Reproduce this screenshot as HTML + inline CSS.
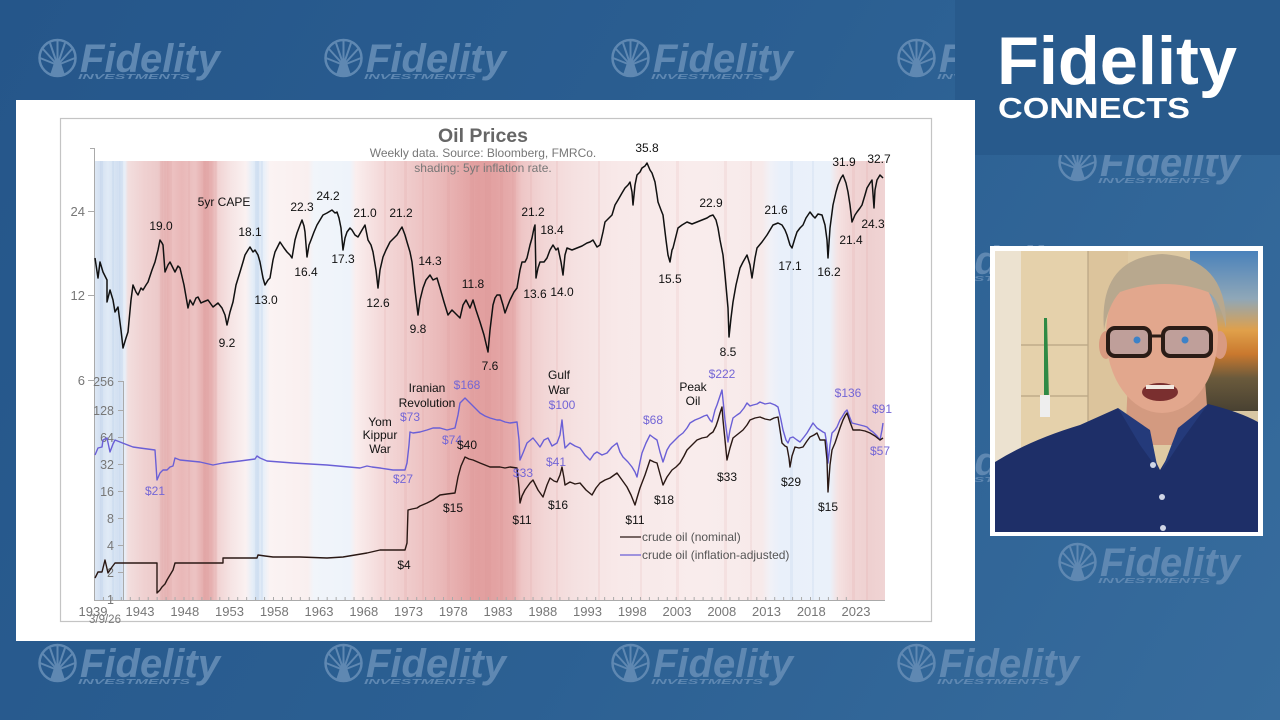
<!DOCTYPE html>
<html><head><meta charset="utf-8"><style>
html,body{margin:0;padding:0;width:1280px;height:720px;overflow:hidden;background:#2b5e8f}
svg{display:block}
text{font-family:"Liberation Sans",Arial,sans-serif}
</style></head><body>
<svg width="1280" height="720" viewBox="0 0 1280 720" xmlns="http://www.w3.org/2000/svg">
<defs>
<linearGradient id="bg" x1="0" y1="0" x2="1280" y2="720" gradientUnits="userSpaceOnUse">
<stop offset="0" stop-color="#25568a"/><stop offset="0.5" stop-color="#2b5f92"/><stop offset="1" stop-color="#376c9d"/></linearGradient>
<linearGradient id="sh" x1="94" y1="0" x2="885" y2="0" gradientUnits="userSpaceOnUse">
<stop offset="0" stop-color="#dfe9f5"/><stop offset=".0076" stop-color="#d3e0f1"/><stop offset=".0177" stop-color="#e0eaf6"/><stop offset=".0303" stop-color="#d2e0f1"/><stop offset=".0392" stop-color="#e8eff8"/><stop offset=".043" stop-color="#f2dede"/><stop offset=".0645" stop-color="#efd0d0"/><stop offset=".0809" stop-color="#eccaca"/><stop offset=".0898" stop-color="#e6b3b3"/><stop offset=".0986" stop-color="#ecc1c1"/><stop offset=".111" stop-color="#e9b8b8"/><stop offset=".128" stop-color="#ecc3c3"/><stop offset=".140" stop-color="#e4aaaa"/><stop offset=".149" stop-color="#e6b0b0"/><stop offset=".157" stop-color="#f1d3d3"/><stop offset=".174" stop-color="#f6e5e5"/><stop offset=".192" stop-color="#faf1f1"/><stop offset=".200" stop-color="#e6eef8"/><stop offset=".207" stop-color="#d8e5f4"/><stop offset=".215" stop-color="#e9f0f9"/><stop offset=".2225" stop-color="#fbf3f3"/><stop offset=".2705" stop-color="#f9efef"/><stop offset=".278" stop-color="#f1f5fa"/><stop offset=".3236" stop-color="#eef3fa"/><stop offset=".331" stop-color="#faeeee"/><stop offset=".3616" stop-color="#f4dada"/><stop offset=".3995" stop-color="#efcaca"/><stop offset=".4374" stop-color="#eab9b9"/><stop offset=".4627" stop-color="#e6abab"/><stop offset=".4855" stop-color="#e29f9f"/><stop offset=".507" stop-color="#e3a2a2"/><stop offset=".5284" stop-color="#e6acac"/><stop offset=".541" stop-color="#eec6c6"/><stop offset=".570" stop-color="#f2d6d6"/><stop offset=".608" stop-color="#f5e1e1"/><stop offset=".665" stop-color="#f8e9e9"/><stop offset=".766" stop-color="#f9ecec"/><stop offset=".8445" stop-color="#f7eaea"/><stop offset=".8546" stop-color="#f1f1f7"/><stop offset=".867" stop-color="#e9f0fa"/><stop offset=".930" stop-color="#eaf1fa"/><stop offset=".9406" stop-color="#f5e2e2"/><stop offset=".9557" stop-color="#f1d6d6"/><stop offset=".981" stop-color="#eed0d0"/><stop offset="1" stop-color="#f0d4d4"/>
</linearGradient>
<linearGradient id="paint" x1="0" y1="251" x2="0" y2="410" gradientUnits="userSpaceOnUse">
<stop offset="0" stop-color="#4a82bb"/><stop offset=".3" stop-color="#8fa7b8"/><stop offset=".5" stop-color="#e0a04a"/><stop offset=".65" stop-color="#c9782e"/><stop offset=".8" stop-color="#6a5a3c"/><stop offset="1" stop-color="#4a4232"/></linearGradient>
<clipPath id="cam"><rect x="995" y="251" width="263" height="281"/></clipPath>
</defs>

<rect x="0" y="0" width="1280" height="720" fill="url(#bg)"/>

<!-- watermark logos -->
<g fill="#5f88b2" stroke="none">
<g transform="translate(38,39)"><circle cx="19.5" cy="19" r="18" fill="none" stroke="#5f88b2" stroke-width="2.5"/><path d="M19.5 26 L5 10 M19.5 26 L12 4 M19.5 26 L19.5 2 M19.5 26 L27 4 M19.5 26 L34 10 M19.5 26 L2 19 M19.5 26 L37 19" stroke="#5f88b2" stroke-width="2"/><path d="M12 36 L16 24 L23 24 L27 36 Z"/><text x="42" y="33" font-size="40" font-weight="bold" font-style="italic" textLength="140" lengthAdjust="spacingAndGlyphs">Fidelity</text><text x="40" y="40" font-size="7" font-weight="bold" font-style="italic" textLength="112" lengthAdjust="spacingAndGlyphs">INVESTMENTS</text></g>
<g transform="translate(324,39)"><circle cx="19.5" cy="19" r="18" fill="none" stroke="#5f88b2" stroke-width="2.5"/><path d="M19.5 26 L5 10 M19.5 26 L12 4 M19.5 26 L19.5 2 M19.5 26 L27 4 M19.5 26 L34 10 M19.5 26 L2 19 M19.5 26 L37 19" stroke="#5f88b2" stroke-width="2"/><path d="M12 36 L16 24 L23 24 L27 36 Z"/><text x="42" y="33" font-size="40" font-weight="bold" font-style="italic" textLength="140" lengthAdjust="spacingAndGlyphs">Fidelity</text><text x="40" y="40" font-size="7" font-weight="bold" font-style="italic" textLength="112" lengthAdjust="spacingAndGlyphs">INVESTMENTS</text></g>
<g transform="translate(611,39)"><circle cx="19.5" cy="19" r="18" fill="none" stroke="#5f88b2" stroke-width="2.5"/><path d="M19.5 26 L5 10 M19.5 26 L12 4 M19.5 26 L19.5 2 M19.5 26 L27 4 M19.5 26 L34 10 M19.5 26 L2 19 M19.5 26 L37 19" stroke="#5f88b2" stroke-width="2"/><path d="M12 36 L16 24 L23 24 L27 36 Z"/><text x="42" y="33" font-size="40" font-weight="bold" font-style="italic" textLength="140" lengthAdjust="spacingAndGlyphs">Fidelity</text><text x="40" y="40" font-size="7" font-weight="bold" font-style="italic" textLength="112" lengthAdjust="spacingAndGlyphs">INVESTMENTS</text></g>
<g transform="translate(897,39)"><circle cx="19.5" cy="19" r="18" fill="none" stroke="#5f88b2" stroke-width="2.5"/><path d="M19.5 26 L5 10 M19.5 26 L12 4 M19.5 26 L19.5 2 M19.5 26 L27 4 M19.5 26 L34 10 M19.5 26 L2 19 M19.5 26 L37 19" stroke="#5f88b2" stroke-width="2"/><path d="M12 36 L16 24 L23 24 L27 36 Z"/><text x="42" y="33" font-size="40" font-weight="bold" font-style="italic" textLength="140" lengthAdjust="spacingAndGlyphs">Fidelity</text><text x="40" y="40" font-size="7" font-weight="bold" font-style="italic" textLength="112" lengthAdjust="spacingAndGlyphs">INVESTMENTS</text></g>
<g transform="translate(1058,143)"><circle cx="19.5" cy="19" r="18" fill="none" stroke="#5f88b2" stroke-width="2.5"/><path d="M19.5 26 L5 10 M19.5 26 L12 4 M19.5 26 L19.5 2 M19.5 26 L27 4 M19.5 26 L34 10 M19.5 26 L2 19 M19.5 26 L37 19" stroke="#5f88b2" stroke-width="2"/><path d="M12 36 L16 24 L23 24 L27 36 Z"/><text x="42" y="33" font-size="40" font-weight="bold" font-style="italic" textLength="140" lengthAdjust="spacingAndGlyphs">Fidelity</text><text x="40" y="40" font-size="7" font-weight="bold" font-style="italic" textLength="112" lengthAdjust="spacingAndGlyphs">INVESTMENTS</text></g>
<g transform="translate(897,241)"><text x="42" y="33" font-size="40" font-weight="bold" font-style="italic" textLength="140" lengthAdjust="spacingAndGlyphs">Fidelity</text><text x="40" y="40" font-size="7" font-weight="bold" font-style="italic" textLength="112" lengthAdjust="spacingAndGlyphs">INVESTMENTS</text></g>
<g transform="translate(897,442)"><text x="42" y="33" font-size="40" font-weight="bold" font-style="italic" textLength="140" lengthAdjust="spacingAndGlyphs">Fidelity</text><text x="40" y="40" font-size="7" font-weight="bold" font-style="italic" textLength="112" lengthAdjust="spacingAndGlyphs">INVESTMENTS</text></g>
<g transform="translate(1058,543)"><circle cx="19.5" cy="19" r="18" fill="none" stroke="#5f88b2" stroke-width="2.5"/><path d="M19.5 26 L5 10 M19.5 26 L12 4 M19.5 26 L19.5 2 M19.5 26 L27 4 M19.5 26 L34 10 M19.5 26 L2 19 M19.5 26 L37 19" stroke="#5f88b2" stroke-width="2"/><path d="M12 36 L16 24 L23 24 L27 36 Z"/><text x="42" y="33" font-size="40" font-weight="bold" font-style="italic" textLength="140" lengthAdjust="spacingAndGlyphs">Fidelity</text><text x="40" y="40" font-size="7" font-weight="bold" font-style="italic" textLength="112" lengthAdjust="spacingAndGlyphs">INVESTMENTS</text></g>
<g transform="translate(38,644)"><circle cx="19.5" cy="19" r="18" fill="none" stroke="#5f88b2" stroke-width="2.5"/><path d="M19.5 26 L5 10 M19.5 26 L12 4 M19.5 26 L19.5 2 M19.5 26 L27 4 M19.5 26 L34 10 M19.5 26 L2 19 M19.5 26 L37 19" stroke="#5f88b2" stroke-width="2"/><path d="M12 36 L16 24 L23 24 L27 36 Z"/><text x="42" y="33" font-size="40" font-weight="bold" font-style="italic" textLength="140" lengthAdjust="spacingAndGlyphs">Fidelity</text><text x="40" y="40" font-size="7" font-weight="bold" font-style="italic" textLength="112" lengthAdjust="spacingAndGlyphs">INVESTMENTS</text></g>
<g transform="translate(324,644)"><circle cx="19.5" cy="19" r="18" fill="none" stroke="#5f88b2" stroke-width="2.5"/><path d="M19.5 26 L5 10 M19.5 26 L12 4 M19.5 26 L19.5 2 M19.5 26 L27 4 M19.5 26 L34 10 M19.5 26 L2 19 M19.5 26 L37 19" stroke="#5f88b2" stroke-width="2"/><path d="M12 36 L16 24 L23 24 L27 36 Z"/><text x="42" y="33" font-size="40" font-weight="bold" font-style="italic" textLength="140" lengthAdjust="spacingAndGlyphs">Fidelity</text><text x="40" y="40" font-size="7" font-weight="bold" font-style="italic" textLength="112" lengthAdjust="spacingAndGlyphs">INVESTMENTS</text></g>
<g transform="translate(611,644)"><circle cx="19.5" cy="19" r="18" fill="none" stroke="#5f88b2" stroke-width="2.5"/><path d="M19.5 26 L5 10 M19.5 26 L12 4 M19.5 26 L19.5 2 M19.5 26 L27 4 M19.5 26 L34 10 M19.5 26 L2 19 M19.5 26 L37 19" stroke="#5f88b2" stroke-width="2"/><path d="M12 36 L16 24 L23 24 L27 36 Z"/><text x="42" y="33" font-size="40" font-weight="bold" font-style="italic" textLength="140" lengthAdjust="spacingAndGlyphs">Fidelity</text><text x="40" y="40" font-size="7" font-weight="bold" font-style="italic" textLength="112" lengthAdjust="spacingAndGlyphs">INVESTMENTS</text></g>
<g transform="translate(897,644)"><circle cx="19.5" cy="19" r="18" fill="none" stroke="#5f88b2" stroke-width="2.5"/><path d="M19.5 26 L5 10 M19.5 26 L12 4 M19.5 26 L19.5 2 M19.5 26 L27 4 M19.5 26 L34 10 M19.5 26 L2 19 M19.5 26 L37 19" stroke="#5f88b2" stroke-width="2"/><path d="M12 36 L16 24 L23 24 L27 36 Z"/><text x="42" y="33" font-size="40" font-weight="bold" font-style="italic" textLength="140" lengthAdjust="spacingAndGlyphs">Fidelity</text><text x="40" y="40" font-size="7" font-weight="bold" font-style="italic" textLength="112" lengthAdjust="spacingAndGlyphs">INVESTMENTS</text></g>
</g>

<!-- Fidelity Connects box -->
<rect x="955" y="0" width="325" height="155" fill="#285a8c"/>
<text x="997" y="84" font-size="68" font-weight="bold" fill="#ffffff" textLength="240" lengthAdjust="spacingAndGlyphs">Fidelity</text>
<text x="998" y="118" font-size="29" font-weight="bold" fill="#ffffff" textLength="192" lengthAdjust="spacingAndGlyphs">CONNECTS</text>

<!-- slide -->
<rect x="16" y="100" width="959" height="541" fill="#ffffff"/>
<rect x="60.5" y="118.5" width="871" height="503" fill="#ffffff" stroke="#c4c4c4" stroke-width="1.2"/>

<!-- shading -->
<rect x="94" y="161" width="791" height="439" fill="url(#sh)"/>
<g fill="#d98a8a" opacity="0.11">
<rect x="160" y="161" width="3" height="439"/><rect x="167" y="161" width="5" height="439"/><rect x="188" y="161" width="2" height="439"/><rect x="203" y="161" width="6" height="439"/><rect x="215" y="161" width="2" height="439"/><rect x="384" y="161" width="2" height="439"/><rect x="404" y="161" width="3" height="439"/><rect x="422" y="161" width="2" height="439"/><rect x="447" y="161" width="3" height="439"/><rect x="470" y="161" width="4" height="439"/><rect x="485" y="161" width="6" height="439"/><rect x="500" y="161" width="3" height="439"/><rect x="512" y="161" width="4" height="439"/><rect x="530" y="161" width="2" height="439"/><rect x="556" y="161" width="2" height="439"/><rect x="598" y="161" width="2" height="439"/><rect x="640" y="161" width="2" height="439"/><rect x="676" y="161" width="3" height="439"/><rect x="724" y="161" width="3" height="439"/><rect x="750" y="161" width="2" height="439"/><rect x="852" y="161" width="3" height="439"/><rect x="866" y="161" width="2" height="439"/>
</g>
<g fill="#9fbde3" opacity="0.14">
<rect x="100" y="161" width="3" height="439"/><rect x="112" y="161" width="2" height="439"/><rect x="119" y="161" width="4" height="439"/><rect x="255" y="161" width="4" height="439"/><rect x="261" y="161" width="2" height="439"/><rect x="790" y="161" width="3" height="439"/><rect x="812" y="161" width="2" height="439"/>
</g>

<!-- titles -->
<text x="483" y="142" font-size="19.5" font-weight="bold" fill="#666" text-anchor="middle">Oil Prices</text>
<text x="483" y="157" font-size="12" fill="#777" text-anchor="middle">Weekly data.  Source: Bloomberg, FMRCo.</text>
<text x="483" y="172" font-size="12" fill="#777" text-anchor="middle">shading: 5yr inflation rate.</text>

<!-- axes -->
<g stroke="#aaa" stroke-width="1" fill="none">
<path d="M94.5 148 V600 M90 148.5 H94.5"/>
<path d="M88 211.5 H94.5 M88 295.5 H94.5 M88 380.5 H94.5"/>
<path d="M123.5 381 V600"/>
<path d="M118 381.5 H124 M118 410.5 H124 M118 437.5 H124 M118 464.5 H124 M118 491.5 H124 M118 518.5 H124 M118 545.5 H124 M118 572.5 H124"/>
<path d="M94 600.5 H885"/>
<path d="M94.5,600v-3m8.95,3v-3m8.95,3v-3m8.95,3v-3m8.95,3v-3m8.95,3v-3m8.95,3v-3m8.95,3v-3m8.95,3v-3m8.95,3v-3m8.95,3v-3m8.95,3v-3m8.95,3v-3m8.95,3v-3m8.95,3v-3m8.95,3v-3m8.95,3v-3m8.95,3v-3m8.95,3v-3m8.95,3v-3m8.95,3v-3m8.95,3v-3m8.95,3v-3m8.95,3v-3m8.95,3v-3m8.95,3v-3m8.95,3v-3m8.95,3v-3m8.95,3v-3m8.95,3v-3m8.95,3v-3m8.95,3v-3m8.95,3v-3m8.95,3v-3m8.95,3v-3m8.95,3v-3m8.95,3v-3m8.95,3v-3m8.95,3v-3m8.95,3v-3m8.95,3v-3m8.95,3v-3m8.95,3v-3m8.95,3v-3m8.95,3v-3m8.95,3v-3m8.95,3v-3m8.95,3v-3m8.95,3v-3m8.95,3v-3m8.95,3v-3m8.95,3v-3m8.95,3v-3m8.95,3v-3m8.95,3v-3m8.95,3v-3m8.95,3v-3m8.95,3v-3m8.95,3v-3m8.95,3v-3m8.95,3v-3m8.95,3v-3m8.95,3v-3m8.95,3v-3m8.95,3v-3m8.95,3v-3m8.95,3v-3m8.95,3v-3m8.95,3v-3m8.95,3v-3m8.95,3v-3m8.95,3v-3m8.95,3v-3m8.95,3v-3m8.95,3v-3m8.95,3v-3m8.95,3v-3m8.95,3v-3m8.95,3v-3m8.95,3v-3m8.95,3v-3m8.95,3v-3m8.95,3v-3m8.95,3v-3m8.95,3v-3"/>
</g>
<g font-size="13" fill="#777" text-anchor="end">
<text x="85" y="216">24</text><text x="85" y="300">12</text><text x="85" y="385">6</text>
</g>
<g font-size="12.5" fill="#777" text-anchor="end">
<text x="114" y="386">256</text><text x="114" y="415">128</text><text x="114" y="442">64</text><text x="114" y="469">32</text><text x="114" y="496">16</text><text x="114" y="523">8</text><text x="114" y="550">4</text><text x="114" y="577">2</text><text x="114" y="604">1</text>
</g>
<g font-size="13" fill="#777" text-anchor="middle">
<text x="93" y="616">1939</text><text x="140" y="616">1943</text><text x="184.8" y="616">1948</text><text x="229.5" y="616">1953</text><text x="274.3" y="616">1958</text><text x="319" y="616">1963</text><text x="363.8" y="616">1968</text><text x="408.5" y="616">1973</text><text x="453.3" y="616">1978</text><text x="498" y="616">1983</text><text x="542.8" y="616">1988</text><text x="587.5" y="616">1993</text><text x="632.3" y="616">1998</text><text x="677" y="616">2003</text><text x="721.8" y="616">2008</text><text x="766.5" y="616">2013</text><text x="811.3" y="616">2018</text><text x="856" y="616">2023</text>
<text x="105" y="623" font-size="11.5">3/9/26</text>
</g>

<!-- CAPE line -->
<polyline fill="none" stroke="#111" stroke-width="1.5" stroke-linejoin="round" points="95,258 98,278 100,262 103,272 107,280 107,302 110,290 113,300 115,312 118,307 121,330 123,348 126,338 128,332 131,300 133,285 136,292 138,295 141,288 143,290 146,285 148,282 152,270 155,262 158,250 160,240 162,243 163,245 165,272 168,265 170,262 173,268 175,272 178,266 180,268 184,285 188,308 190,300 193,305 196,298 198,297 201,303 203,302 208,300 213,307 218,303 222,308 225,315 227,325 230,312 233,302 236,285 240,272 243,262 245,255 248,250 250,247 253,252 255,250 258,255 260,262 263,278 265,285 268,280 270,278 273,260 275,252 278,246 280,242 284,248 287,252 290,255 292,258 295,240 297,233 300,225 302,220 304,226 305,232 307,257 309,245 311,240 314,232 317,225 320,220 323,215 327,213 332,210 335,213 337,212 339,218 341,228 343,250 345,238 347,232 350,228 352,230 355,235 358,237 362,230 365,225 368,240 371,245 373,252 376,270 378,288 380,270 383,257 386,250 390,242 394,238 397,235 400,230 402,227 405,235 407,242 410,252 412,262 415,290 418,315 420,300 423,288 426,280 430,275 433,280 437,278 440,288 444,302 448,315 452,310 455,313 458,316 460,318 463,305 466,300 470,308 473,300 476,310 480,322 484,335 488,352 490,330 493,305 495,298 497,295 500,295 503,305 505,313 508,305 510,300 514,292 517,288 520,270 522,262 525,262 527,258 530,245 532,238 534,228 535,225 536,278 538,268 540,262 544,262 547,258 550,250 553,245 556,250 558,248 561,262 563,275 565,255 567,248 572,250 577,248 582,246 587,243 590,242 593,240 597,247 600,245 603,232 605,222 609,218 612,215 615,205 618,200 622,193 625,188 628,185 630,182 632,192 633,205 635,185 637,175 640,172 642,168 645,166 647,163 650,170 652,173 655,182 657,195 658,202 661,210 663,215 666,240 668,255 670,262 672,250 673,248 676,236 678,228 682,225 687,222 692,224 697,222 702,220 707,218 710,216 713,215 716,220 718,228 720,240 723,255 725,275 728,308 729,337 731,318 733,302 736,285 740,268 743,262 747,255 750,265 752,278 755,258 757,248 762,242 767,235 770,230 773,225 778,223 782,225 785,230 787,235 790,245 792,248 795,238 797,232 800,228 803,225 806,218 810,212 813,216 815,218 818,214 822,215 825,225 827,240 828,258 830,228 833,205 836,192 838,185 841,178 843,175 846,183 848,192 850,205 852,222 855,215 857,212 860,208 862,205 865,195 867,188 870,183 872,180 874,208 875,190 877,180 880,175 883,178"/>

<!-- inflation-adjusted (purple) -->
<polyline fill="none" stroke="#6a5fd6" stroke-width="1.4" stroke-linejoin="round" points="95,455 98,448 102,447 103,440 107,438 110,452 113,444 115,440 120,442 133,447 140,448 155,450 157,480 160,473 163,470 167,470 170,467 173,466 175,458 180,460 200,462 213,465 223,463 240,461 255,459 257,456 260,458 267,461 293,463 327,465 360,468 367,466 372,467 380,468 393,470 405,470 407,463 409,445 410,432 413,433 420,432 427,430 433,428 440,428 447,430 455,428 458,415 460,403 465,398 470,403 475,408 480,413 485,416 490,418 497,420 500,420 505,422 510,423 517,422 519,440 520,460 523,453 527,443 533,438 537,443 540,447 544,440 548,438 552,446 557,443 560,435 562,420 564,440 565,448 570,443 575,446 580,448 585,455 590,460 594,454 597,452 602,455 607,453 612,447 617,443 620,452 623,457 628,462 632,467 635,472 637,477 640,462 642,453 646,443 650,435 654,438 657,440 660,452 663,462 667,450 670,445 675,440 679,436 683,433 687,428 690,423 695,420 700,418 704,416 707,415 710,420 712,422 715,410 717,405 720,396 722,390 723,400 725,420 728,442 730,430 733,418 737,415 740,413 744,408 747,403 750,406 753,405 757,404 760,402 765,404 770,403 775,405 778,407 781,420 783,430 786,440 788,443 790,438 793,437 797,440 800,442 804,437 807,433 810,428 813,423 817,428 820,430 823,432 825,433 827,445 828,463 830,445 832,433 835,430 837,427 840,420 842,417 845,412 847,410 850,418 852,423 856,424 860,425 864,426 867,427 870,430 873,432 877,436 880,440 882,430 883,423"/>

<!-- nominal (black) -->
<polyline fill="none" stroke="#2a1814" stroke-width="1.4" stroke-linejoin="round" points="95,578 98,572 102,572 105,560 108,573 110,570 112,567 115,563 157,563 157,593 160,590 162,587 165,584 167,580 170,575 173,570 175,563 223,563 223,558 257,558 258,555 265,556 273,557 300,557 327,558 343,557 367,553 380,550 405,550 407,543 408,510 412,509 417,508 420,506 427,503 433,500 440,495 447,494 455,493 458,477 461,466 465,457 469,459 473,460 480,463 485,465 490,467 497,467 500,467 505,468 510,467 517,468 519,488 520,503 522,496 525,490 530,483 533,480 538,490 543,497 547,485 550,478 554,481 557,482 560,475 562,467 564,478 565,485 570,482 575,484 580,483 586,490 592,495 596,488 600,483 605,480 610,478 617,473 622,480 627,487 631,495 635,505 637,498 640,488 645,475 650,460 654,462 657,463 660,474 663,485 667,477 672,470 676,467 680,463 684,456 687,450 692,445 697,440 702,438 707,437 710,434 713,432 716,426 718,420 720,413 722,407 723,420 725,440 727,460 730,448 733,438 738,434 743,430 747,425 750,420 755,418 760,417 765,419 770,420 774,418 778,417 780,430 782,443 785,446 787,447 789,458 790,467 792,456 795,447 799,448 803,447 807,441 810,437 814,435 817,433 820,440 825,440 827,460 828,492 830,465 832,450 835,443 837,437 840,428 843,420 845,416 847,413 850,422 853,430 857,430 860,430 865,431 870,433 875,436 880,440 883,438"/>

<!-- top annotations -->
<g font-size="12" fill="#111" text-anchor="middle">
<text x="224" y="206">5yr CAPE</text>
<text x="161" y="230">19.0</text><text x="250" y="236">18.1</text><text x="302" y="211">22.3</text><text x="328" y="200">24.2</text><text x="365" y="217">21.0</text><text x="401" y="217">21.2</text><text x="306" y="276">16.4</text><text x="266" y="304">13.0</text><text x="227" y="347">9.2</text><text x="343" y="263">17.3</text><text x="378" y="307">12.6</text><text x="430" y="265">14.3</text><text x="418" y="333">9.8</text><text x="473" y="288">11.8</text><text x="490" y="370">7.6</text><text x="533" y="216">21.2</text><text x="552" y="234">18.4</text><text x="535" y="298">13.6</text><text x="562" y="296">14.0</text><text x="647" y="152">35.8</text><text x="670" y="283">15.5</text><text x="711" y="207">22.9</text><text x="728" y="356">8.5</text><text x="776" y="214">21.6</text><text x="790" y="270">17.1</text><text x="829" y="276">16.2</text><text x="844" y="166">31.9</text><text x="879" y="163">32.7</text><text x="873" y="228">24.3</text><text x="851" y="244">21.4</text>
</g>

<!-- bottom annotations -->
<g font-size="12" fill="#7466d6" text-anchor="middle">
<text x="155" y="495">$21</text><text x="403" y="483">$27</text><text x="410" y="421">$73</text><text x="452" y="444">$74</text><text x="467" y="389">$168</text><text x="562" y="409">$100</text><text x="556" y="466">$41</text><text x="523" y="477">$33</text><text x="653" y="424">$68</text><text x="722" y="378">$222</text><text x="848" y="397">$136</text><text x="882" y="413">$91</text><text x="880" y="455">$57</text>
</g>
<g font-size="12" fill="#111" text-anchor="middle">
<text x="380" y="426">Yom</text><text x="380" y="439">Kippur</text><text x="380" y="453">War</text>
<text x="427" y="392">Iranian</text><text x="427" y="407">Revolution</text>
<text x="467" y="449">$40</text><text x="453" y="512">$15</text><text x="404" y="569">$4</text>
<text x="559" y="379">Gulf</text><text x="559" y="394">War</text>
<text x="693" y="391">Peak</text><text x="693" y="405">Oil</text>
<text x="522" y="524">$11</text><text x="558" y="509">$16</text><text x="635" y="524">$11</text><text x="664" y="504">$18</text><text x="727" y="481">$33</text><text x="791" y="486">$29</text><text x="828" y="511">$15</text>
</g>

<!-- legend -->
<line x1="620" y1="537" x2="641" y2="537" stroke="#2a1814" stroke-width="1.3"/>
<line x1="620" y1="555" x2="641" y2="555" stroke="#6a5fd6" stroke-width="1.3"/>
<text x="642" y="541" font-size="12" fill="#555">crude oil (nominal)</text>
<text x="642" y="559" font-size="12" fill="#555">crude oil (inflation-adjusted)</text>

<!-- webcam -->
<rect x="990" y="246" width="273" height="290" fill="#ffffff"/>
<g clip-path="url(#cam)">
<rect x="995" y="251" width="263" height="281" fill="#dfcaa3"/>
<rect x="995" y="251" width="26" height="281" fill="#ece2d0"/>
<rect x="1021" y="251" width="67" height="281" fill="#e5d1ab"/>
<rect x="1088" y="251" width="40" height="281" fill="#dcc49c"/>
<path d="M1021 345 H1088 M1021 396 H1088 M1088 251 V532" stroke="#b9a584" stroke-width="1.2"/>
<rect x="1190" y="251" width="68" height="160" fill="url(#paint)"/>
<rect x="1190" y="411" width="68" height="30" fill="#d8c7a4"/>
<path d="M1044 318 L1047 318 L1049 400 L1044 400 Z" fill="#2f8a45"/>
<rect x="1040" y="395" width="10" height="22" fill="#eeeeee"/>
<path d="M1128 380 L1205 380 L1210 445 L1125 445 Z" fill="#d39a80"/>
<path d="M995 532 L995 462 Q1030 440 1080 425 L1118 408 L1145 440 L1160 470 L1178 440 L1208 404 Q1240 412 1258 422 L1258 532 Z" fill="#1e2f68"/>
<path d="M1118 408 L1140 445 L1158 470 L1150 430 Z" fill="#243a7a"/>
<path d="M1208 404 L1182 440 L1162 470 L1178 428 Z" fill="#243a7a"/>
<circle cx="1153" cy="465" r="3" fill="#d0d6e6"/><circle cx="1162" cy="497" r="3" fill="#d0d6e6"/><circle cx="1163" cy="528" r="3" fill="#d0d6e6"/>
<ellipse cx="1106" cy="345" rx="7" ry="14" fill="#d99a80"/>
<ellipse cx="1220" cy="345" rx="7" ry="14" fill="#d99a80"/>
<ellipse cx="1162" cy="335" rx="56" ry="78" fill="#e2a78d"/>
<path d="M1104 330 Q1098 258 1162 254 Q1228 258 1226 328 Q1220 300 1208 292 Q1165 276 1120 292 Q1108 305 1104 330 Z" fill="#b8a88e"/>
<rect x="1108" y="328" width="42" height="28" rx="7" fill="#7d93b5" fill-opacity="0.35" stroke="#2a1c16" stroke-width="4"/>
<rect x="1163" y="328" width="48" height="28" rx="7" fill="#7d93b5" fill-opacity="0.35" stroke="#2a1c16" stroke-width="4"/>
<path d="M1150 336 L1163 336" stroke="#2a1c16" stroke-width="3"/>
<circle cx="1137" cy="340" r="3.5" fill="#3c82c8"/><circle cx="1185" cy="340" r="3.5" fill="#3c82c8"/>
<ellipse cx="1160" cy="392" rx="18" ry="9" fill="#7a2f2f"/>
<rect x="1146" y="385" width="28" height="4" fill="#f2e8e0"/>
</g>
</svg>
</body></html>
